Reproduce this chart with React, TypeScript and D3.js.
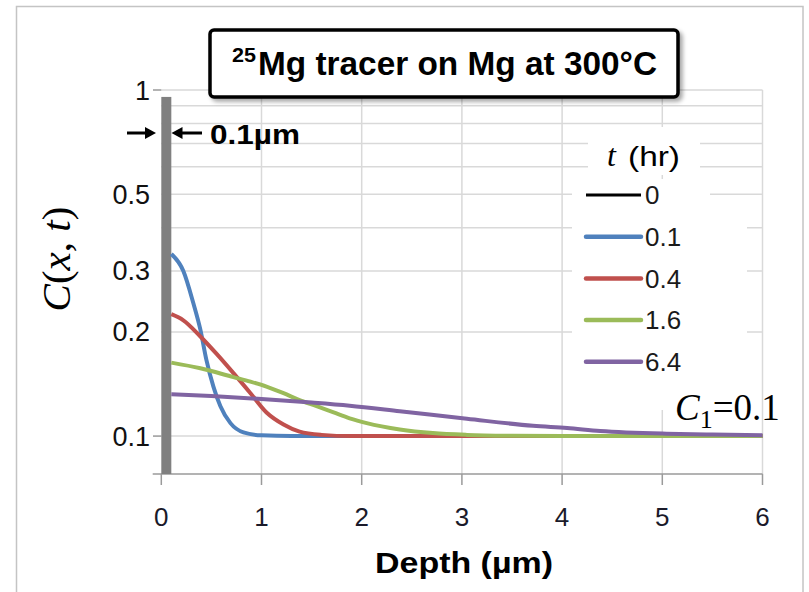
import React from "react";
import * as d3 from "d3";

// ---- data ----
const seriesNames = ["0", "0.1", "0.4", "1.6", "6.4"];
const seriesColors = ["#000000", "#4F81BD", "#C0504D", "#9BBB59", "#8064A2"];

const depthT01 = [0.1, 0.22, 0.32, 0.39, 0.45, 0.52, 0.59, 0.69, 0.82, 1.0, 1.3, 2, 3, 4, 5, 6];
const concT01 = [0.336, 0.3, 0.242, 0.203, 0.166, 0.139, 0.122, 0.109, 0.1025, 0.1005, 0.1, 0.1, 0.1, 0.1, 0.1, 0.1];

const depthT04 = [0.1, 0.22, 0.39, 0.55, 0.72, 0.89, 1.05, 1.22, 1.38, 1.6, 1.9, 2.5, 3, 4, 5, 6];
const concT04 = [0.225, 0.216, 0.194, 0.173, 0.152, 0.133, 0.117, 0.108, 0.103, 0.1008, 0.1, 0.1, 0.1, 0.1, 0.1, 0.1];

const depthT16 = [0.1, 0.39, 0.72, 0.89, 1.05, 1.22, 1.38, 1.55, 1.72, 1.88, 2.05, 2.38, 2.71, 3.05, 3.5, 4, 5, 6];
const concT16 = [0.163, 0.157, 0.148, 0.1436, 0.139, 0.133, 0.127, 0.122, 0.117, 0.1125, 0.109, 0.1045, 0.102, 0.1008, 0.1002, 0.1, 0.1, 0.1];

const depthT64 = [0.1, 0.5, 1.0, 1.5, 1.88, 2.38, 3.05, 3.71, 4.05, 4.38, 5.04, 5.5, 6];
const concT64 = [0.132, 0.1305, 0.128, 0.125, 0.1224, 0.118, 0.1122, 0.1071, 0.1055, 0.1035, 0.1016, 0.101, 0.1006];

const filmThickness = 0.1; // µm, initial tracer film (t = 0)
const filmTopValue = 0.955;

const xTicks = [0, 1, 2, 3, 4, 5, 6];
const yTickLabels = [1, 0.5, 0.3, 0.2, 0.1];
const yGridValues = [0.1, 0.2, 0.3, 0.4, 0.5, 0.6, 0.7, 0.8, 0.9, 1];
const yMajorTicks = [0.1, 1];

export default function App() {
  const x = d3.scaleLinear().domain([0, 6]).range([161.3, 762.5]);
  const y = d3.scaleLog().domain([0.0777, 1]).range([474, 90]);

  const series = [
    { depth: depthT01, conc: concT01, color: seriesColors[1] },
    { depth: depthT04, conc: concT04, color: seriesColors[2] },
    { depth: depthT16, conc: concT16, color: seriesColors[3] },
    { depth: depthT64, conc: concT64, color: seriesColors[4] },
  ];

  const line = d3
    .line<[number, number]>()
    .x((d) => x(d[0]))
    .y((d) => y(d[1]))
    .curve(d3.curveMonotoneX);

  const sans = "'Liberation Sans', Arial, sans-serif";
  const serif = "'Liberation Serif', 'DejaVu Serif', serif";
  const gridColor = "#d9d9d9";
  const axisColor = "#9a9a9a";

  const legendX0 = 586;
  const legendX1 = 641;
  const legendY0 = 195;
  const legendStep = 41.7;

  return (
    <svg
      width={809}
      height={592}
      style={{ position: "absolute", left: 0, top: 0, background: "#fff" }}
    >
      <defs>
        <filter id="shadow" x="-10%" y="-20%" width="130%" height="160%">
          <feDropShadow dx="3" dy="3" stdDeviation="2" floodColor="#000" floodOpacity="0.35" />
        </filter>
      </defs>
      <rect x={0} y={0} width={809} height={592} fill="#fff" />
      {/* chart frame */}
      <rect x={16.5} y={6.5} width={786.5} height={620} fill="#fff" stroke="#c4c4c4" strokeWidth={1.5} />

      {/* horizontal gridlines (log) */}
      {yGridValues.map((v) => (
        <line key={"hg" + v} x1={x(0)} x2={x(6)} y1={y(v)} y2={y(v)} stroke={gridColor} strokeWidth={1.5} />
      ))}
      {/* vertical gridlines */}
      {xTicks.slice(1).map((t) => (
        <line key={"vg" + t} x1={x(t)} x2={x(t)} y1={y(1)} y2={y(0.0777)} stroke={gridColor} strokeWidth={1.5} />
      ))}

      {/* legend backgrounds */}
      <rect x={588} y={127} width={112} height={48} fill="#fff" />
      <rect x={572} y={179} width={138} height={31} fill="#fff" />
      <rect x={572} y={210} width={175} height={200} fill="#fff" />

      {/* x axis */}
      <line x1={152.7} x2={x(6)} y1={474} y2={474} stroke={axisColor} strokeWidth={1.5} />
      {xTicks.map((t) => (
        <line key={"xt" + t} x1={x(t)} x2={x(t)} y1={474} y2={485} stroke={axisColor} strokeWidth={1.5} />
      ))}
      {yMajorTicks.map((v) => (
        <line key={"yt" + v} x1={153} x2={x(0)} y1={y(v)} y2={y(v)} stroke={axisColor} strokeWidth={1.5} />
      ))}

      {/* t = 0 film */}
      <rect
        x={x(0)}
        y={y(filmTopValue)}
        width={x(filmThickness) - x(0)}
        height={y(0.0777) - y(filmTopValue)}
        fill="#808080"
      />

      {/* curves */}
      {series.map((s, i) => (
        <path
          key={"s" + i}
          d={line(s.depth.map((d, j) => [d, s.conc[j]] as [number, number])) || ""}
          fill="none"
          stroke={s.color}
          strokeWidth={4}
          strokeLinejoin="round"
        />
      ))}

      {/* y tick labels */}
      {yTickLabels.map((v) => (
        <text key={"yl" + v} x={150} y={y(v) + 9.5} textAnchor="end" fontFamily={sans} fontSize={27} fill="#111">
          {String(v)}
        </text>
      ))}
      {/* x tick labels */}
      {xTicks.map((t) => (
        <text key={"xl" + t} x={x(t)} y={526} textAnchor="middle" fontFamily={sans} fontSize={26} fill="#1a1a2a">
          {String(t)}
        </text>
      ))}

      {/* axis titles */}
      <text x={464} y={573} textAnchor="middle" fontFamily={sans} fontWeight="bold" fontSize={29} textLength={178} lengthAdjust="spacingAndGlyphs" fill="#000">
        Depth (µm)
      </text>
      <text transform="translate(70,259) rotate(-90)" textAnchor="middle" fontFamily={serif} fontSize={41} fill="#000">
        <tspan fontStyle="italic">C</tspan>
        <tspan>(</tspan>
        <tspan fontStyle="italic">x</tspan>
        <tspan>, </tspan>
        <tspan fontStyle="italic">t</tspan>
        <tspan>)</tspan>
      </text>

      {/* title box */}
      <rect x={210} y={30} width={468} height={67} rx={4} fill="#fff" stroke="#000" strokeWidth={3.5} filter="url(#shadow)" />
      <text x={232} y={62} fontFamily={sans} fontWeight="bold" fontSize={21} textLength={24} lengthAdjust="spacingAndGlyphs" fill="#000">25</text>
      <text x={258} y={75} fontFamily={sans} fontWeight="bold" fontSize={33} textLength={399} lengthAdjust="spacingAndGlyphs" fill="#000">
        Mg tracer on Mg at 300°C
      </text>

      {/* film thickness annotation */}
      <line x1={127} x2={148} y1={133} y2={133} stroke="#000" strokeWidth={3} />
      <path d="M156,133 L145,127 L145,139 Z" fill="#000" />
      <line x1={180} x2={202} y1={133} y2={133} stroke="#000" strokeWidth={3} />
      <path d="M171.5,133 L182.5,127 L182.5,139 Z" fill="#000" />
      <text x={210} y={144} fontFamily={sans} fontWeight="bold" fontSize={27} textLength={90} lengthAdjust="spacingAndGlyphs" fill="#000">
        0.1µm
      </text>

      {/* legend */}
      <text x={607} y={166} fontFamily={serif} fontStyle="italic" fontSize={32} fill="#000">t</text>
      <text x={628} y={166} fontFamily={sans} fontSize={28} textLength={52} lengthAdjust="spacingAndGlyphs" fill="#000">(hr)</text>
      {seriesNames.map((name, i) => {
        const ly = legendY0 + i * legendStep;
        return (
          <g key={"lg" + name}>
            <line
              x1={legendX0}
              x2={legendX1}
              y1={ly}
              y2={ly}
              stroke={seriesColors[i]}
              strokeWidth={i === 0 ? 3 : 4.5}
              strokeLinecap={i === 0 ? "butt" : "round"}
            />
            <text x={645} y={ly + 9.3} fontFamily={sans} fontSize={26} fill="#1a1a1a">
              {name}
            </text>
          </g>
        );
      })}

      {/* C1 annotation */}
      <text x={675} y={420} fontFamily={serif} fontSize={37} fill="#000">
        <tspan fontStyle="italic">C</tspan>
        <tspan fontSize={26} dy={8}>1</tspan>
        <tspan dy={-8}>=0.1</tspan>
      </text>
    </svg>
  );
}
